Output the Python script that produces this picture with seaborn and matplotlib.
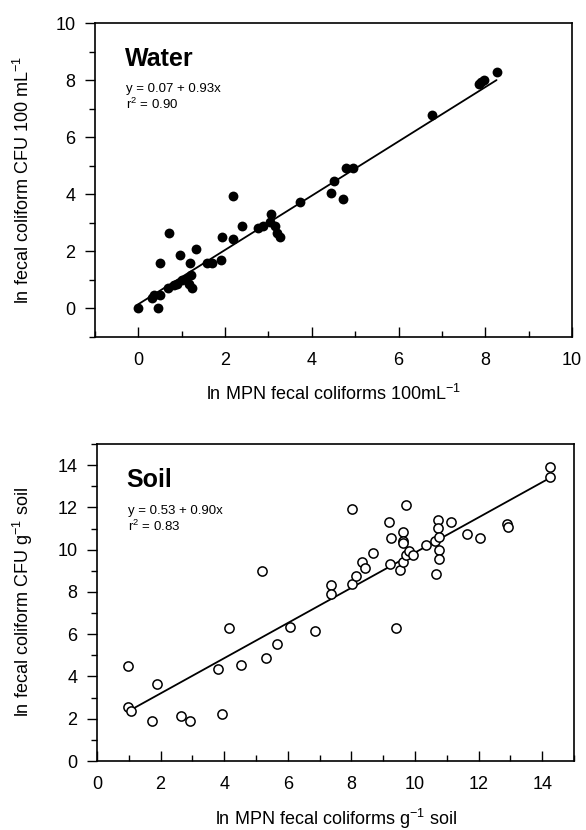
import numpy as np
import pandas as pd
import matplotlib
matplotlib.use("Agg")
import matplotlib.pyplot as plt
from matplotlib.ticker import MultipleLocator
import seaborn as sns

# === values ===
water_x = [0.00, 0.45, 0.31, 0.36, 0.49, 0.49, 0.69, 0.70, 0.82, 0.89, 0.96,
           1.01, 1.09, 1.16, 1.24, 1.22, 1.20, 1.33, 1.58, 1.70, 1.90, 1.94,
           2.19, 2.19, 2.39, 2.77, 2.88, 3.03, 3.07, 3.15, 3.19, 3.26, 3.72,
           4.45, 4.50, 4.72, 4.79, 4.96, 6.76, 7.85, 7.90, 7.97, 8.26]
water_y = [0.00, 0.00, 0.35, 0.46, 0.46, 1.60, 0.70, 2.64, 0.81, 0.87, 1.89,
           0.99, 1.04, 0.87, 0.72, 1.18, 1.60, 2.09, 1.60, 1.60, 1.68, 2.52,
           2.42, 3.95, 2.90, 2.81, 2.88, 3.02, 3.31, 2.90, 2.65, 2.50, 3.72,
           4.03, 4.45, 3.83, 4.91, 4.91, 6.77, 7.87, 7.92, 7.99, 8.28]
water_line_x = [0.0, 8.26]
water_line_y = [0.15, 8.0]

soil_x = [0.98, 0.98, 1.06, 1.72, 1.88, 2.63, 2.92, 3.81, 3.94, 4.15, 4.52,
          5.18, 5.31, 5.65, 6.07, 6.86, 7.36, 7.36, 8.01, 8.01, 8.13, 8.32,
          8.43, 8.69, 9.19, 9.24, 9.21, 9.40, 9.53, 9.61, 9.63, 9.63, 9.63,
          9.72, 9.72, 9.82, 9.93, 10.35, 10.63, 10.65, 10.73, 10.73, 10.77,
          10.77, 10.77, 11.13, 11.65, 12.03, 12.90, 12.93, 14.25, 14.25]
soil_y = [4.50, 2.57, 2.37, 1.91, 3.63, 2.14, 1.88, 4.34, 2.22, 6.28, 4.53,
          8.99, 4.86, 5.54, 6.33, 6.15, 8.35, 7.90, 11.91, 8.38, 8.76, 9.43,
          9.15, 9.83, 11.31, 10.55, 9.32, 6.30, 9.04, 9.43, 10.82, 10.43, 10.30,
          12.10, 9.75, 9.94, 9.75, 10.21, 10.43, 8.84, 11.41, 11.01, 10.62,
          9.99, 9.55, 11.33, 10.73, 10.54, 11.22, 11.09, 13.90, 13.46]
soil_line_x = [1.1, 14.25]
soil_line_y = [2.45, 13.4]

panels = [
    dict(name="Water", x=water_x, y=water_y, lx=water_line_x, ly=water_line_y,
         eq="y = 0.07 + 0.93x", r2="r$^{2}$ = 0.90", filled=True,
         xlim=(-1, 10), ylim=(-1, 10), xticks=[0, 2, 4, 6, 8, 10],
         xlabel="ln MPN fecal coliforms 100mL$^{-1}$",
         ylabel="ln fecal coliform CFU 100 mL$^{-1}$",
         rect=[95/586, 1 - 337/830, 477/586, 314/830], xlab_y=-0.18),
    dict(name="Soil", x=soil_x, y=soil_y, lx=soil_line_x, ly=soil_line_y,
         eq="y = 0.53 + 0.90x", r2="r$^{2}$ = 0.83", filled=False,
         xlim=(0, 15), ylim=(0, 15), xticks=[0, 2, 4, 6, 8, 10, 12, 14],
         xlabel="ln MPN fecal coliforms g$^{-1}$ soil",
         ylabel="ln fecal coliform CFU g$^{-1}$ soil",
         rect=[97/586, 1 - 761/830, 477/586, 317/830], xlab_y=-0.183),
]

sns.set_style("ticks")
plt.rcParams["font.family"] = ["Liberation Sans", "DejaVu Sans"]
plt.rcParams["mathtext.fontset"] = "custom"
plt.rcParams["mathtext.rm"] = "Liberation Sans"
plt.rcParams["mathtext.it"] = "Liberation Sans:italic"
plt.rcParams["mathtext.bf"] = "Liberation Sans:bold"
for key in ["text.color", "axes.labelcolor", "xtick.color", "ytick.color",
            "axes.edgecolor"]:
    plt.rcParams[key] = "black"

fig = plt.figure(figsize=(5.86, 8.30), dpi=100)

for p in panels:
    ax = fig.add_axes(p["rect"])
    df = pd.DataFrame({"x": p["x"], "y": p["y"]})
    if p["filled"]:
        sns.scatterplot(data=df, x="x", y="y", ax=ax, color="black", s=50,
                        edgecolor="black", linewidth=0, zorder=3)
    else:
        sns.scatterplot(data=df, x="x", y="y", ax=ax, facecolor="white", s=44,
                        edgecolor="black", linewidth=1.1, zorder=3)
    sns.lineplot(x=p["lx"], y=p["ly"], ax=ax, color="black", linewidth=1.3,
                 zorder=2)

    ax.set_xlim(*p["xlim"])
    ax.set_ylim(*p["ylim"])
    ax.set_xticks(p["xticks"])
    ax.set_yticks(np.arange(0, p["ylim"][1] + 0.1, 2))
    ax.xaxis.set_minor_locator(MultipleLocator(1))
    ax.yaxis.set_minor_locator(MultipleLocator(1))
    ax.tick_params(axis="x", which="major", direction="in", length=7,
                   width=1, pad=11, labelsize=13)
    ax.tick_params(axis="x", which="minor", direction="in", length=4, width=1)
    ax.tick_params(axis="y", which="major", direction="out", length=7,
                   width=1, pad=7, labelsize=13)
    ax.tick_params(axis="y", which="minor", direction="out", length=4, width=1)
    for s in ax.spines.values():
        s.set_linewidth(1.2)
        s.set_color("black")

    ax.set_xlabel(p["xlabel"], fontsize=13, va="center")
    ax.set_ylabel(p["ylabel"], fontsize=13)
    ax.xaxis.set_label_coords(0.5, p["xlab_y"])
    ax.yaxis.set_label_coords(-0.13, 0.5)

    ax.text(0.062, 0.885, p["name"], transform=ax.transAxes, fontsize=18,
            fontweight="bold", va="center", ha="left")
    ax.text(0.066, 0.79, p["eq"], transform=ax.transAxes, fontsize=9.5,
            va="center", ha="left")
    ax.text(0.066, 0.74, p["r2"], transform=ax.transAxes, fontsize=9.5,
            va="center", ha="left")

fig.savefig("out.png", dpi=100)
